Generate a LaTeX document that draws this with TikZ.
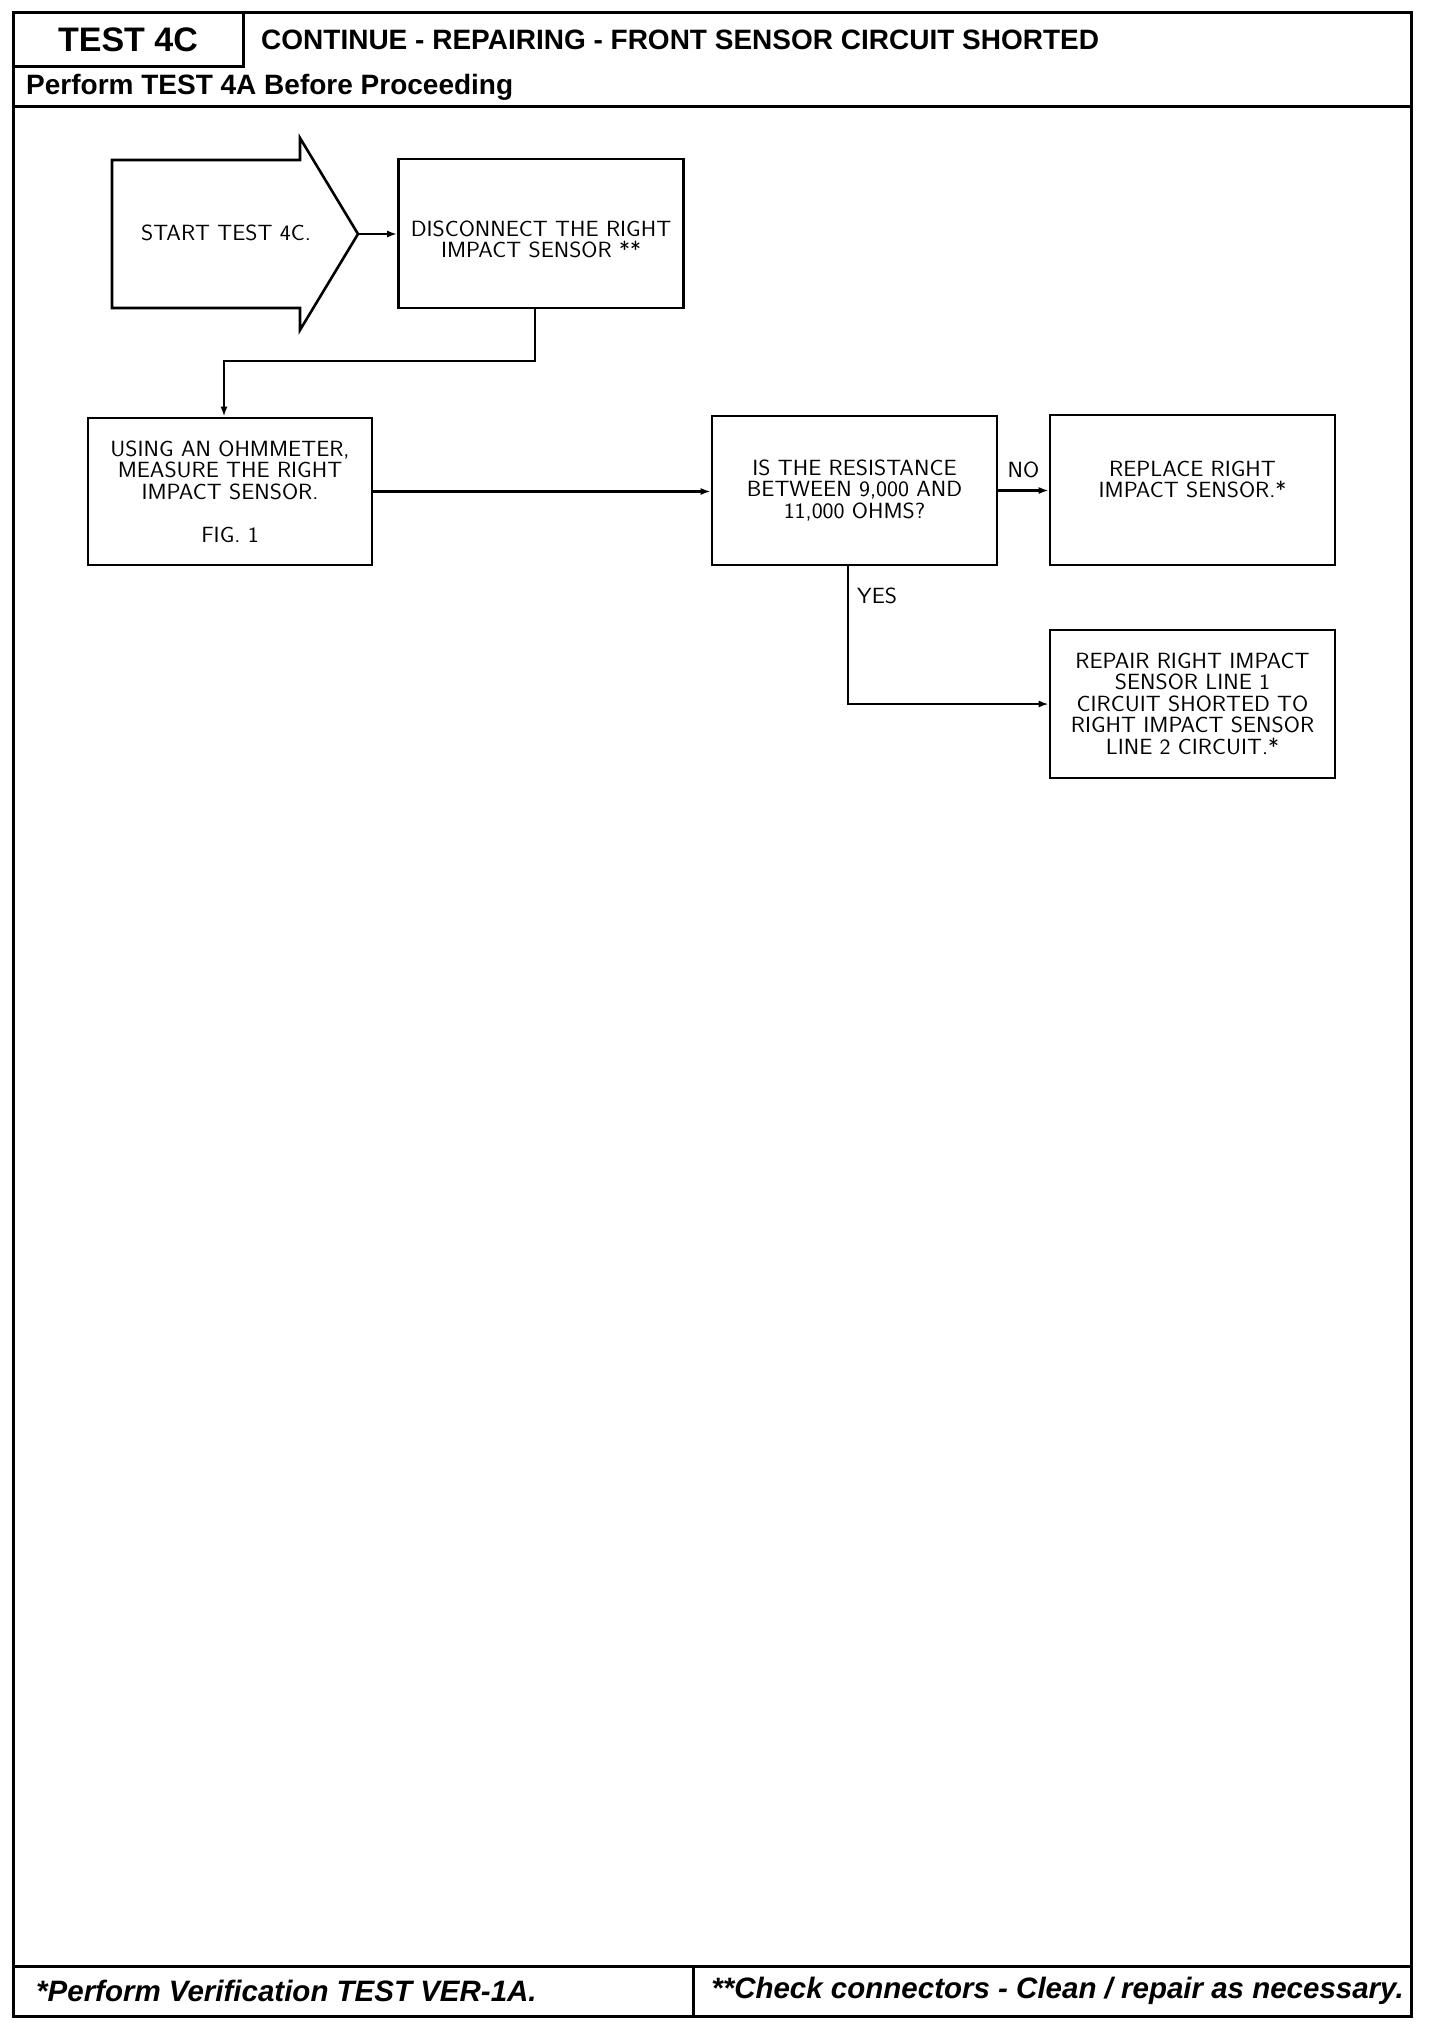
\documentclass[tikz,border=0pt]{standalone}
\usepackage{fontspec}
\setmainfont{Liberation Sans}
\newfontfamily\plotface{lmsans17-regular.otf}[FakeStretch=1.06]
\usetikzlibrary{arrows.meta,calc}
\newcommand\plotfnt{\plotface\fontsize{22}{21.5}\selectfont}
\begin{document}
\begin{tikzpicture}[x=1pt,y=-1pt,
  outerframe/.style={line width=3pt, line cap=rect},
  boxst/.style={draw, line width=2.6pt, minimum width=285pt, minimum height=149pt, align=center, inner sep=0pt, font=\plotfnt},
  conn/.style={line width=2.2pt, -{Latex[length=10pt,width=7pt]}},
  lbl/.style={inner sep=0pt, font=\plotfnt},
  hdr/.style={inner sep=0pt, font=\bfseries\fontsize{28}{30}\selectfont},
  ftr/.style={inner sep=0pt, font=\bfseries\itshape\fontsize{29.5}{31}\selectfont}]
\useasboundingbox (0,0) rectangle (1440,2026);
% frame
\draw[outerframe] (13,13) rectangle (1411,2016);
\draw[outerframe] (13,106) -- (1411,106);
\draw[outerframe] (13,1966) -- (1411,1966);
\draw[outerframe] (693,1966) -- (693,2016);
% header
\node[draw, line width=3pt, minimum width=230pt, minimum height=54pt, inner sep=0pt, font=\bfseries\fontsize{34}{36}\selectfont] (testbox) at (128,40) {TEST 4C};
\node[hdr, anchor=west] (title) at (261,40) {CONTINUE - REPAIRING - FRONT SENSOR CIRCUIT SHORTED};
\node[hdr, anchor=west] (pre) at (26,87) {Perform TEST 4A Before Proceeding};
% footer
\node[ftr, anchor=west] (f1) at (36,1991) {*Perform Verification TEST VER-1A.};
\node[ftr, anchor=east] (f2) at (1404,1991) {**Check connectors - Clean / repair as necessary.};
% start arrow
\draw[line width=2.6pt, line join=miter] (112,160) -- (300,160) -- (300,138) -- (358,234) -- (300,330) -- (300,308) -- (112,308) -- cycle;
\node[lbl] (start) at (226,233) {START TEST 4C.};
\coordinate (starttip) at (358,234);
% boxes
\node[boxst, label={[lbl, align=center, yshift=-6pt]center:DISCONNECT THE RIGHT\\IMPACT SENSOR **}] (disc) at (541,233.5) {};
\node[boxst, minimum width=284pt, minimum height=147pt] (ohm) at (230,491.5) {USING AN OHMMETER,\\MEASURE THE RIGHT\\IMPACT SENSOR.\\[21.5pt]FIG. 1};
\node[boxst] (quest) at (854.5,490.5) {IS THE RESISTANCE\\BETWEEN 9,000 AND\\11,000 OHMS?};
\node[boxst, minimum height=150pt] (repl) at (1192.5,490) {REPLACE RIGHT\\IMPACT SENSOR.*\\\mbox{}};
\node[boxst, minimum height=148pt] (rep) at (1192.5,704) {REPAIR RIGHT IMPACT\\SENSOR LINE 1\\CIRCUIT SHORTED TO\\RIGHT IMPACT SENSOR\\LINE 2 CIRCUIT.*};
% connectors
\draw[conn] (starttip) -- (disc.west |- starttip);
\coordinate (j1) at (535,361);
\coordinate (j2) at (224,361);
\draw[conn] (disc.south -| j1) -- (j1) -- (j2) -- (ohm.north -| j2);
\draw[conn] (ohm.east) -- (ohm.east -| quest.west);
\draw[conn] (quest.east) -- node[lbl, above=12pt] (no) {NO} (repl.west |- quest.east);
\draw[conn] ([xshift=-6.5pt]quest.south) |- (rep.west);
\node[lbl, anchor=west] (yes) at (857,596) {YES};
\end{tikzpicture}
\end{document}
